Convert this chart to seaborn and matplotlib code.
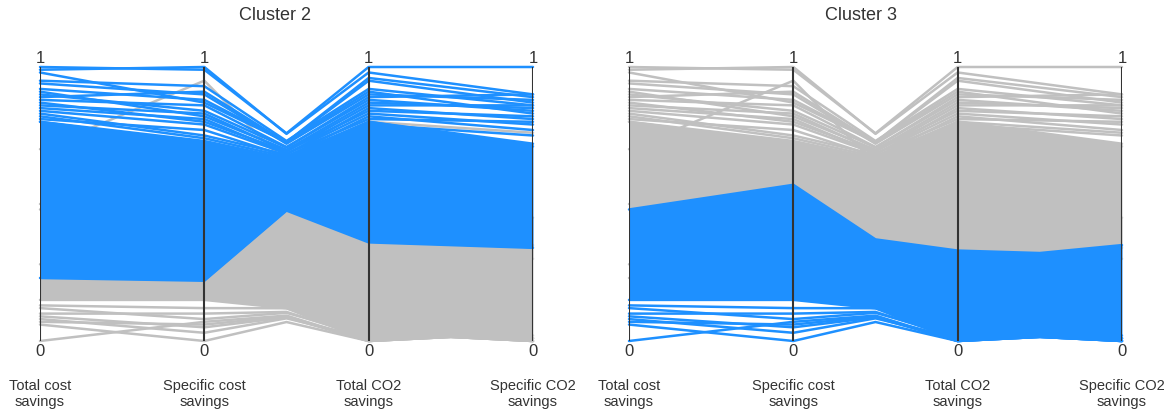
import numpy as np
import pandas as pd
import matplotlib.pyplot as plt
import seaborn as sns

AXIS_NAMES = ["Total cost\nsavings", "Specific cost\nsavings",
              "Total CO2\nsavings", "Specific CO2\nsavings"]
PANELS = [2, 3]

BLUE = "#1e90ff"
GREY = "#c0c0c0"

# dense core of each cluster: lower / upper edge on the four axes
c1_lower = [0.28, 0.30, 0.30, 0.30]
c1_upper = [0.50, 0.58, 0.45, 0.45]
c2_lower = [0.23, 0.22, 0.36, 0.34]
c2_upper = [0.80, 0.73, 0.80, 0.72]
c3_lower = [0.15, 0.15, 0.00, 0.00]
c3_upper = [0.48, 0.57, 0.33, 0.35]

# bundling between neighbouring axes (strength, centre value)
c1_bundle = [0.0, 0.5, 0.0]
c1_centre = [0.40, 0.42, 0.38]
c2_bundle = [0.0, 0.6, 0.0]
c2_centre = [0.55, 0.60, 0.55]
c3_bundle = [0.0, 0.33, 0.1]
c3_centre = [0.30, 0.21, 0.15]

# single lines outside the dense core
c1_lines = [
    [0.70, 0.95, 0.80, 0.76],
]
c2_lines = [
    [1.00, 0.99, 1.00, 1.00],
    [0.99, 1.00, 0.98, 0.90],
    [0.98, 0.87, 0.96, 0.89],
    [0.95, 0.93, 0.92, 0.86],
    [0.94, 0.90, 0.90, 0.88],
    [0.92, 0.88, 0.95, 0.87],
    [0.91, 0.82, 0.87, 0.85],
    [0.90, 0.84, 0.89, 0.90],
    [0.89, 0.91, 0.91, 0.83],
    [0.88, 0.86, 0.88, 0.84],
    [0.87, 0.80, 0.86, 0.86],
    [0.86, 0.83, 0.84, 0.82],
    [0.85, 0.81, 0.81, 0.80],
    [0.84, 0.79, 0.83, 0.79],
    [0.83, 0.75, 0.85, 0.81],
    [0.82, 0.74, 0.82, 0.77],
    [0.81, 0.77, 0.80, 0.71],
    [0.80, 0.72, 0.79, 0.75],
]
c3_lines = [
    [0.13, 0.12, 0.03, 0.02],
    [0.12, 0.08, 0.02, 0.01],
    [0.10, 0.10, 0.01, 0.01],
    [0.09, 0.05, 0.00, 0.00],
    [0.08, 0.03, 0.01, 0.00],
    [0.07, 0.06, 0.00, 0.01],
    [0.00, 0.07, 0.00, 0.00],
    [0.06, 0.00, 0.00, 0.00],
]

clusters = {
    1: (c1_lower, c1_upper, c1_bundle, c1_centre, c1_lines),
    2: (c2_lower, c2_upper, c2_bundle, c2_centre, c2_lines),
    3: (c3_lower, c3_upper, c3_bundle, c3_centre, c3_lines),
}

XPOS = np.arange(7) / 2.0


def bundled(vals, bundle, centre):
    ys = []
    for i in range(3):
        ys.append(vals[i])
        lin = (vals[i] + vals[i + 1]) / 2
        ys.append((1 - bundle[i]) * lin + bundle[i] * centre[i])
    ys.append(vals[3])
    return ys


def draw_cluster(ax, cid, color, z):
    lower, upper, bundle, centre, lines = clusters[cid]
    lo = bundled(lower, bundle, centre)
    hi = bundled(upper, bundle, centre)
    ax.fill_between(XPOS, lo, hi, color=color, lw=0, zorder=z)
    rows = []
    for k, vals in enumerate(lines + [lower, upper]):
        for x, y in zip(XPOS, bundled(vals, bundle, centre)):
            rows.append({"x": x, "y": y, "line": k})
    df = pd.DataFrame(rows)
    sns.lineplot(data=df, x="x", y="y", units="line", estimator=None,
                 sort=False, color=color, lw=1.8, ax=ax, legend=False,
                 zorder=z, clip_on=False)


sns.set_theme(style="white")
plt.rcParams["font.family"] = ["Liberation Sans", "DejaVu Sans"]

fig = plt.figure(figsize=(11.7, 4.17), dpi=100)
lefts = [40 / 1170, 629 / 1170]
title_x = [275 / 1170, 861 / 1170]

for p, highlight in enumerate(PANELS):
    ax = fig.add_axes([lefts[p], 76 / 417, 493 / 1170, 274 / 417])
    for cid in clusters:
        if cid != highlight:
            draw_cluster(ax, cid, GREY, 1)
    draw_cluster(ax, highlight, BLUE, 2)

    ax.vlines(range(4), 0, 1, color="#333333", lw=1.5, zorder=5)
    for i, name in enumerate(AXIS_NAMES):
        ax.annotate("1", (i, 1), xytext=(0, 1), textcoords="offset points",
                    ha="center", va="bottom", fontsize=12, color="#333333")
        ax.annotate("0", (i, 0), xytext=(0, -2.5), textcoords="offset points",
                    ha="center", va="top", fontsize=12, color="#333333")
        ax.annotate(name, (i, 0), xytext=(0, -38), textcoords="offset points",
                    ha="center", va="center", fontsize=10.5, color="#333333",
                    linespacing=1.15, annotation_clip=False)
    ax.set_xlim(0, 3)
    ax.set_ylim(0, 1)
    ax.axis("off")
    fig.text(title_x[p], 1 - 16 / 417, f"Cluster {highlight}", ha="center",
             va="center", fontsize=13, color="#333333")

fig.savefig("out.png", dpi=100)
